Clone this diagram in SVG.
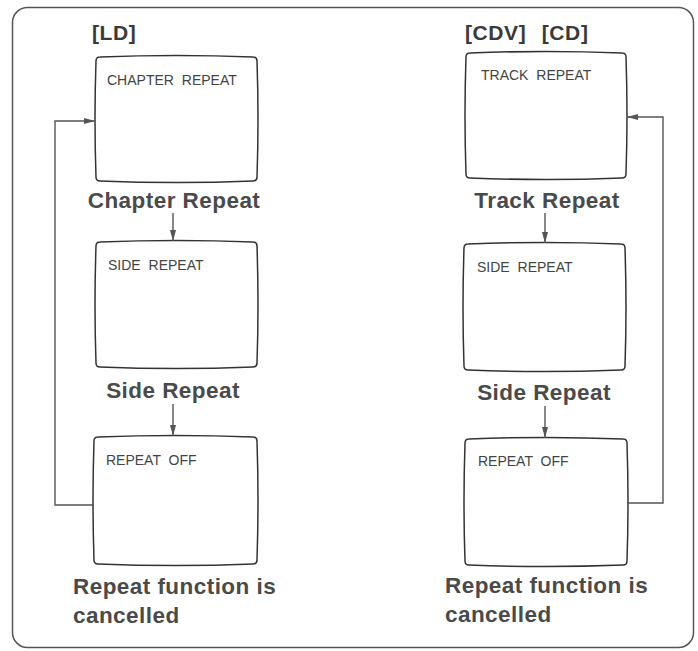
<svg xmlns="http://www.w3.org/2000/svg" width="698" height="651" viewBox="0 0 698 651">
<style>
.frame{fill:#fff;stroke:#555;stroke-width:1.5}
.screen{fill:#fff;stroke:#333;stroke-width:1.5}
.scr{font-family:"Liberation Sans",Arial,sans-serif;font-size:14px;fill:#444;word-spacing:4px}
.lbl{font-family:"Liberation Sans",Arial,sans-serif;font-size:22.5px;font-weight:bold;fill:#4a4a4a;letter-spacing:0.45px}
.hdr{font-family:"Liberation Sans",Arial,sans-serif;font-size:21px;font-weight:bold;fill:#3a3a3a;letter-spacing:0.6px;word-spacing:9px}
.conn{fill:none;stroke:#555;stroke-width:1.4}
</style>
<defs>
<marker id="ah" markerWidth="12" markerHeight="8" refX="11" refY="4" orient="auto" markerUnits="userSpaceOnUse">
<path d="M0,1 L11,4 L0,7 Z" fill="#555"/>
</marker>
</defs>
<rect class="frame" x="12.5" y="7.5" width="681" height="640" rx="15"/>
<text class="hdr" x="92" y="40">[LD]</text>
<text class="hdr" x="465" y="40">[CDV] [CD]</text>
<g id="ld-chapter">
<path class="screen" d="M100,57 Q176.5,54 253,57 Q257,57 257,61 Q259,119 257,177 Q257,181 253,181 Q176.5,184 100,181 Q96,181 96,177 Q94,119 96,61 Q96,57 100,57 Z"/>
<text class="scr" x="107" y="85">CHAPTER REPEAT</text>
</g>
<text class="lbl" x="174" y="208" text-anchor="middle">Chapter Repeat</text>
<g id="ld-side">
<path class="screen" d="M100,242 Q176.5,239 253,242 Q257,242 257,246 Q259,304.5 257,363 Q257,367 253,367 Q176.5,370 100,367 Q96,367 96,363 Q94,304.5 96,246 Q96,242 100,242 Z"/>
<text class="scr" x="108" y="270">SIDE REPEAT</text>
</g>
<text class="lbl" x="173" y="398" text-anchor="middle">Side Repeat</text>
<g id="ld-off">
<path class="screen" d="M98,437 Q175.5,434 253,437 Q257,437 257,441 Q259,500.5 257,560 Q257,564 253,564 Q175.5,567 98,564 Q94,564 94,560 Q92,500.5 94,441 Q94,437 98,437 Z"/>
<text class="scr" x="106" y="465">REPEAT OFF</text>
</g>
<text class="lbl" x="73" y="594">Repeat function is</text>
<text class="lbl" x="73" y="623">cancelled</text>
<g id="cd-track">
<path class="screen" d="M470,53 Q546,50 622,53 Q626,53 626,57 Q628,115.5 626,174 Q626,178 622,178 Q546,181 470,178 Q466,178 466,174 Q464,115.5 466,57 Q466,53 470,53 Z"/>
<text class="scr" x="481" y="80">TRACK REPEAT</text>
</g>
<text class="lbl" x="547" y="208" text-anchor="middle">Track Repeat</text>
<g id="cd-side">
<path class="screen" d="M468,244 Q544.5,241 621,244 Q625,244 625,248 Q627,307 625,366 Q625,370 621,370 Q544.5,373 468,370 Q464,370 464,366 Q462,307 464,248 Q464,244 468,244 Z"/>
<text class="scr" x="477" y="272">SIDE REPEAT</text>
</g>
<text class="lbl" x="544" y="400" text-anchor="middle">Side Repeat</text>
<g id="cd-off">
<path class="screen" d="M469,439 Q546,436 623,439 Q627,439 627,443 Q629,502 627,561 Q627,565 623,565 Q546,568 469,565 Q465,565 465,561 Q463,502 465,443 Q465,439 469,439 Z"/>
<text class="scr" x="478" y="466">REPEAT OFF</text>
</g>
<text class="lbl" x="445" y="593">Repeat function is</text>
<text class="lbl" x="445" y="622">cancelled</text>
<g id="connectors">
<path class="conn" d="M173,213 V241" marker-end="url(#ah)"/>
<path class="conn" d="M173,404 V436" marker-end="url(#ah)"/>
<path class="conn" d="M94,505 H55 V121 H95" marker-end="url(#ah)"/>
<path class="conn" d="M545,213 V243" marker-end="url(#ah)"/>
<path class="conn" d="M545,406 V438" marker-end="url(#ah)"/>
<path class="conn" d="M627,503 H663 V117 H627" marker-end="url(#ah)"/>
</g>
</svg>
